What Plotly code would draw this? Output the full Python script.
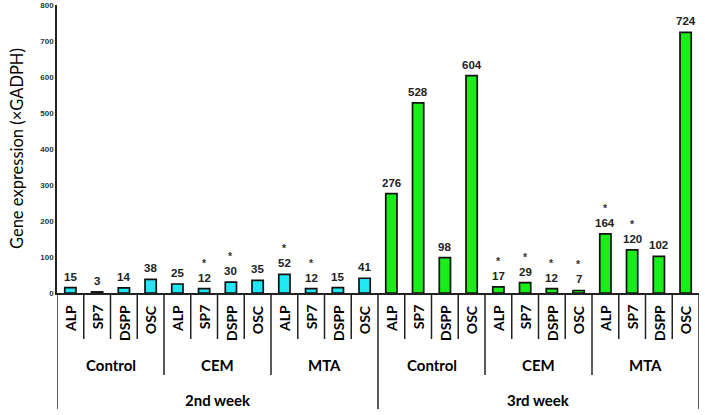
import plotly.graph_objects as go

genes = ["ALP", "SP7", "DSPP", "OSC"]
groups = ["Control", "CEM", "MTA"]
weeks = ["2nd week", "3rd week"]

week2_values = [15, 3, 14, 38, 25, 12, 30, 35, 52, 12, 15, 41]
week3_values = [276, 528, 98, 604, 17, 29, 12, 7, 164, 120, 102, 724]
week2_star = [0, 0, 0, 0, 0, 1, 1, 0, 1, 1, 0, 0]
week3_star = [0, 0, 0, 0, 1, 1, 1, 1, 1, 1, 0, 0]

y_ticks = [0, 100, 200, 300, 400, 500, 600, 700, 800]

CYAN = "#22E6F4"
GREEN = "#1AEE1A"

values = week2_values + week3_values
stars = week2_star + week3_star
n = len(values)
xs = list(range(n))
gene_labels = genes * (len(groups) * len(weeks))
colors = [CYAN] * len(week2_values) + [GREEN] * len(week3_values)

fig = go.Figure()
fig.add_trace(go.Bar(
    x=xs, y=values, width=0.42,
    marker=dict(color=colors, line=dict(color="#111", width=1.7)),
    hoverinfo="y",
))

annotations = []
# value labels and stars
for i, v in enumerate(values):
    annotations.append(dict(x=i, y=v, xref="x", yref="y", text=f"<b>{v}</b>",
                            showarrow=False, yanchor="bottom", yshift=3,
                            font=dict(family="Arial", size=11.5, color="#222")))
    if stars[i]:
        annotations.append(dict(x=i, y=v, xref="x", yref="y", text="<b>*</b>",
                                showarrow=False, yanchor="bottom", yshift=18,
                                font=dict(family="Arial", size=10.5, color="#333")))

PLOT_H = 288.0
def py(pix):
    return (293 - pix) / PLOT_H

# y-axis title
annotations.append(dict(x=0, y=0.5, xref="paper", yref="paper", text="Gene expression (×GADPH)",
                        showarrow=False, textangle=-90, xanchor="center", yanchor="middle",
                        xshift=-40, font=dict(family="Lato", size=16.5, color="black")))

# gene labels (rotated)
for i, g in enumerate(gene_labels):
    annotations.append(dict(x=i, y=py(303), xref="x", yref="paper", text=f"<b>{g}</b>",
                            showarrow=False, textangle=-90, yanchor="top", xanchor="center",
                            font=dict(family="Lato", size=14, color="black")))
# group labels
for w in range(len(weeks)):
    for gi, grp in enumerate(groups):
        c = w * 12 + gi * 4 + 1.5
        annotations.append(dict(x=c, y=py(365), xref="x", yref="paper", text=f"<b>{grp}</b>",
                                showarrow=False, yanchor="middle",
                                font=dict(family="Lato", size=15, color="black")))
    annotations.append(dict(x=w * 12 + 5.5, y=py(400), xref="x", yref="paper",
                            text=f"<b>{weeks[w]}</b>", showarrow=False, yanchor="middle",
                            font=dict(family="Lato", size=15, color="black")))

shapes = []
for b in range(n + 1):
    xb = b - 0.5
    if b % 12 == 0:
        bottom = 409
    elif b % 4 == 0:
        bottom = 375
    else:
        bottom = 339
    shapes.append(dict(type="line", xref="x", yref="paper", x0=xb, x1=xb,
                       y0=0, y1=py(bottom), line=dict(color="#222", width=1.5)))

fig.update_layout(
    width=705, height=415,
    margin=dict(l=57, r=6, t=5, b=122),
    plot_bgcolor="white", paper_bgcolor="white",
    showlegend=False,
    annotations=annotations, shapes=shapes,
    xaxis=dict(range=[-0.5, n - 0.5], showticklabels=False, ticks="", showgrid=False,
               zeroline=False, showline=True, linecolor="#222", linewidth=1.5),
    yaxis=dict(range=[0, 800], tickvals=y_ticks, ticktext=[f"<b>{t}</b>" for t in y_ticks],
               showgrid=False, zeroline=False, showline=True, linecolor="#222", linewidth=1.5,
               ticks="", tickfont=dict(family="Arial", size=8, color="#333"),
               automargin=False),
)

fig.write_html("out.html", config={"displayModeBar": False},
               post_script="document.body.style.margin='0';document.body.style.padding='0';")
